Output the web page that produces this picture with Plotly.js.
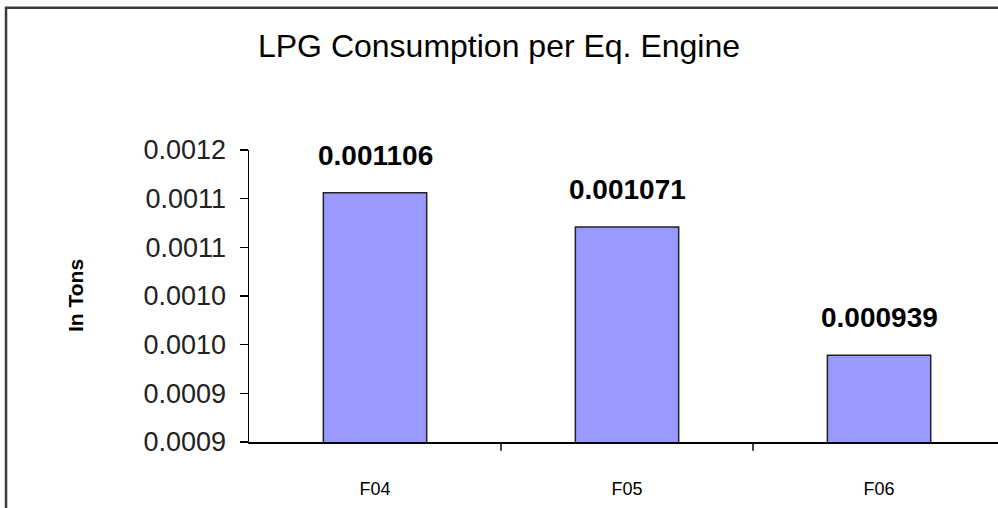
<!DOCTYPE html>
<html>
<head>
<meta charset="utf-8">
<script src="https://cdn.plot.ly/plotly-3.0.1.min.js"></script>
<style>html,body{margin:0;padding:0;overflow:hidden;background:#fff;}#chart{width:998px;height:508px;}</style>
</head>
<body>
<div id="chart"></div>
<script>
const categories = ['F04', 'F05', 'F06'];
const values = [0.001106, 0.001071, 0.000939];
const valueLabels = ['0.001106', '0.001071', '0.000939'];
const yTickVals = [0.00085, 0.00090, 0.00095, 0.00100, 0.00105, 0.00110, 0.00115];
const yTickText = ['0.0009', '0.0009', '0.0010', '0.0010', '0.0011', '0.0011', '0.0012'];

const FONT = '"Liberation Sans", Arial, sans-serif';

const trace = {
  type: 'bar',
  x: categories,
  y: values,
  base: 0,
  marker: { color: '#9999FF', line: { color: '#222222', width: 1.5 } },
  hoverinfo: 'x+y',
  cliponaxis: true
};

const annotations = categories.map((c, i) => ({
  x: c, y: values[i], xref: 'x', yref: 'y',
  text: valueLabels[i], showarrow: false,
  yanchor: 'bottom', yshift: 20,
  font: { family: FONT, size: 28, color: '#000', weight: 'bold' }
}));

annotations.push({
  xref: 'paper', yref: 'paper', x: -0.2323, y: 0.50,
  text: 'In Tons', textangle: -90, showarrow: false,
  xanchor: 'center', yanchor: 'middle',
  font: { family: FONT, size: 21, color: '#000', weight: 'bold' }
});

const layout = {
  width: 998, height: 508,
  margin: { l: 249, r: 0, t: 150, b: 66, pad: 0 },
  paper_bgcolor: '#ffffff', plot_bgcolor: '#ffffff',
  showlegend: false,
  bargap: 0.59,
  title: {
    text: 'LPG Consumption per Eq. Engine',
    font: { family: FONT, size: 32, color: '#000' },
    xref: 'container', yref: 'container', x: 0.5, y: 0.909,
    xanchor: 'center', yanchor: 'middle'
  },
  xaxis: {
    type: 'category',
    range: [-0.5, 2.472],
    showline: true, linecolor: '#000', linewidth: 1.5,
    ticks: '', showgrid: false, zeroline: false,
    tickfont: { family: FONT, size: 18, color: '#000' },
    ticklabelstandoff: 30
  },
  yaxis: {
    range: [0.00085, 0.00115],
    tickvals: yTickVals, ticktext: yTickText,
    showline: true, linecolor: '#000', linewidth: 1.5,
    ticks: 'outside', ticklen: 8, tickcolor: '#000', tickwidth: 1.5,
    showgrid: false, zeroline: false,
    tickfont: { family: FONT, size: 27, color: '#222' },
    ticklabelstandoff: 8
  },
  annotations: annotations,
  shapes: [
    { type: 'line', xref: 'x', yref: 'paper', x0: 0.5, x1: 0.5, y0: 0, y1: -0.03, line: { color: '#000', width: 1.5 } },
    { type: 'line', xref: 'x', yref: 'paper', x0: 1.5, x1: 1.5, y0: 0, y1: -0.03, line: { color: '#000', width: 1.5 } },
    { type: 'rect', xref: 'paper', yref: 'paper', x0: -0.3244, x1: 1.05, y0: -0.3, y1: 1.4868,
      line: { color: '#3a3a3a', width: 2.5 }, fillcolor: 'rgba(0,0,0,0)', layer: 'above' }
  ]
};

Plotly.newPlot('chart', [trace], layout, { displayModeBar: false, staticPlot: true });
</script>
</body>
</html>
